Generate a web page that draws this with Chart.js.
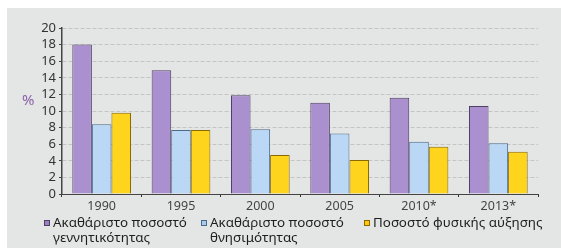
<!DOCTYPE html>
<html lang="el">
<head>
<meta charset="UTF-8">
<title>Ποσοστά γεννητικότητας και θνησιμότητας</title>
<script src="https://cdn.jsdelivr.net/npm/chart.js@4/dist/chart.umd.min.js"></script>
<style>
    body { margin: 0; background: #fff; font-family: "Noto Sans", sans-serif; }
    #wrap { position: relative; width: 561px; height: 248px; overflow: hidden; }
    #panel { position: absolute; left: 7px; top: 8px; right: 0; bottom: 0; background: #e4e5e5; }
    canvas { position: absolute; left: 0; top: 0; }
    #ytitle { position: absolute; left: 22px; top: 89px; color: #8b62a8; font-size: 15px; }
    .leg { position: absolute; top: 215px; font-size: 13.4px; line-height: 15px; color: #1e1e1e; white-space: nowrap; }
    .leg i { position: absolute; left: -9px; top: 5px; width: 4px; height: 4px; border: 1px solid #333; }
</style>
</head>
<body>
<div id="wrap">
    <div id="panel"></div>
    <canvas id="c" width="561" height="248"></canvas>
    <div id="ytitle">%</div>
    <div class="leg" style="left:53px"><i style="background:#9a80bf;border-color:#4f3f63"></i>Ακαθάριστο ποσοστό<br>γεννητικότητας</div>
    <div class="leg" style="left:210px"><i style="background:#a9c9ee;border-color:#4a6a8a"></i>Ακαθάριστο ποσοστό<br>θνησιμότητας</div>
    <div class="leg" style="left:373px"><i style="background:#ffc90a;border-color:#8a6a00"></i>Ποσοστό φυσικής αύξησης</div>
</div>
<script>
    const years = ['1990', '1995', '2000', '2005', '2010*', '2013*'];
    const birthRate = [18, 14.9, 11.9, 11, 11.6, 10.6];
    const deathRate = [8.4, 7.7, 7.8, 7.3, 6.3, 6.1];
    const growthRate = [9.8, 7.7, 4.7, 4.1, 5.7, 5.1];

    const ctx = document.getElementById('c').getContext('2d');

    function shade(c1, c2) {
        // soft left-to-right shading per bar
        return function(context) {
            const el = context.element;
            if (!el || !isFinite(el.x) || !isFinite(el.width)) return c1;
            const w = el.width;
            const g = context.chart.ctx.createLinearGradient(el.x - w / 2, 0, el.x + w / 2, 0);
            g.addColorStop(0, c2);
            g.addColorStop(0.45, c1);
            g.addColorStop(1, c2);
            return g;
        };
    }

    new Chart(ctx, {
        type: 'bar',
        data: {
            labels: years,
            datasets: [
                { label: 'Ακαθάριστο ποσοστό γεννητικότητας', data: birthRate,
                  backgroundColor: shade('#ab90cf', '#765a98'), borderColor: '#4f3f63', borderWidth: 1 },
                { label: 'Ακαθάριστο ποσοστό θνησιμότητας', data: deathRate,
                  backgroundColor: shade('#bad7f6', '#82a6d1'), borderColor: '#4a6a8a', borderWidth: 1 },
                { label: 'Ποσοστό φυσικής αύξησης', data: growthRate,
                  backgroundColor: shade('#ffd41c', '#e6a400'), borderColor: '#8a6a00', borderWidth: 1 }
            ]
        },
        options: {
            responsive: false,
            animation: false,
            layout: { padding: { left: 7, right: 23, top: 28, bottom: 36 } },
            datasets: { bar: { categoryPercentage: 0.74, barPercentage: 1 } },
            plugins: { legend: { display: false }, tooltip: { enabled: false } },
            scales: {
                x: {
                    afterFit: s => { s.height = 18; },
                    grid: { display: true, drawOnChartArea: false, offset: true, color: '#333', tickLength: 3 },
                    border: { color: '#444', width: 1 },
                    ticks: { color: '#444', font: { family: 'Noto Sans', size: 12.5 }, padding: 2 }
                },
                y: {
                    min: 0, max: 20,
                    afterFit: s => { s.width = 55; },
                    grid: { color: '#c4c4c4', tickColor: '#444', tickLength: 3 },
                    border: { color: '#444', width: 1.5, dash: [4, 2] },
                    ticks: { stepSize: 2, autoSkip: false, color: '#333', font: { family: 'Noto Sans', size: 13 }, padding: 3 }
                }
            }
        }
    });
</script>
</body>
</html>
